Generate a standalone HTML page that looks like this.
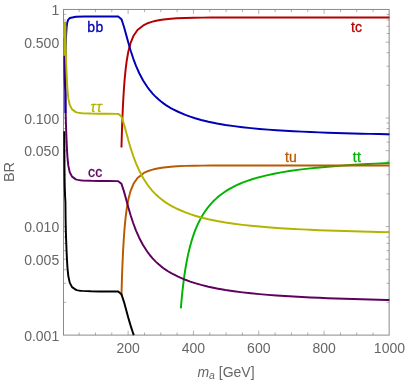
<!DOCTYPE html><html><head><meta charset="utf-8"><style>html,body{margin:0;padding:0;background:#fff}body{width:406px;height:382px;overflow:hidden;position:relative;font-family:"Liberation Sans",sans-serif}</style></head><body><svg width="406" height="382" viewBox="0 0 406 382" style="position:absolute;left:0;top:0;will-change:transform">
<rect width="406" height="382" fill="#fff"/>
<rect x="63.50" y="9.45" width="325.65" height="325.65" fill="none" stroke="#8a8a8a" stroke-width="1"/>
<path d="M79.13 335.10v-2.70M79.13 9.45v2.70M95.46 335.10v-2.70M95.46 9.45v2.70M111.79 335.10v-2.70M111.79 9.45v2.70M128.13 335.10v-4.40M128.13 9.45v4.40M144.46 335.10v-2.70M144.46 9.45v2.70M160.79 335.10v-2.70M160.79 9.45v2.70M177.12 335.10v-2.70M177.12 9.45v2.70M193.45 335.10v-4.40M193.45 9.45v4.40M209.78 335.10v-2.70M209.78 9.45v2.70M226.12 335.10v-2.70M226.12 9.45v2.70M242.45 335.10v-2.70M242.45 9.45v2.70M258.78 335.10v-4.40M258.78 9.45v4.40M275.11 335.10v-2.70M275.11 9.45v2.70M291.44 335.10v-2.70M291.44 9.45v2.70M307.77 335.10v-2.70M307.77 9.45v2.70M324.10 335.10v-4.40M324.10 9.45v4.40M340.44 335.10v-2.70M340.44 9.45v2.70M356.77 335.10v-2.70M356.77 9.45v2.70M373.10 335.10v-2.70M373.10 9.45v2.70M63.50 118.00h3.50M389.15 118.00h-3.50M63.50 85.32h2.60M389.15 85.32h-2.60M63.50 66.21h2.60M389.15 66.21h-2.60M63.50 52.65h2.60M389.15 52.65h-2.60M63.50 42.13h3.50M389.15 42.13h-3.50M63.50 33.53h2.60M389.15 33.53h-2.60M63.50 26.26h2.60M389.15 26.26h-2.60M63.50 19.97h2.60M389.15 19.97h-2.60M63.50 14.42h2.60M389.15 14.42h-2.60M63.50 226.55h3.50M389.15 226.55h-3.50M63.50 193.87h2.60M389.15 193.87h-2.60M63.50 174.76h2.60M389.15 174.76h-2.60M63.50 161.20h2.60M389.15 161.20h-2.60M63.50 150.68h3.50M389.15 150.68h-3.50M63.50 142.08h2.60M389.15 142.08h-2.60M63.50 134.81h2.60M389.15 134.81h-2.60M63.50 128.52h2.60M389.15 128.52h-2.60M63.50 122.97h2.60M389.15 122.97h-2.60M63.50 302.42h2.60M389.15 302.42h-2.60M63.50 283.31h2.60M389.15 283.31h-2.60M63.50 269.75h2.60M389.15 269.75h-2.60M63.50 259.23h3.50M389.15 259.23h-3.50M63.50 250.63h2.60M389.15 250.63h-2.60M63.50 243.36h2.60M389.15 243.36h-2.60M63.50 237.07h2.60M389.15 237.07h-2.60M63.50 231.52h2.60M389.15 231.52h-2.60" stroke="#7c7c7c" stroke-width="0.6" fill="none"/>
<path d="M180.85 308.45 L181.57 300.04 L182.36 291.95 L183.31 283.59 L184.42 275.24 L185.38 268.95 L186.59 261.99 L187.81 255.91 L189.02 250.53 L190.23 245.73 L191.45 241.41 L192.66 237.49 L193.88 233.92 L195.09 230.65 L196.31 227.64 L197.52 224.85 L198.74 222.27 L199.95 219.87 L201.17 217.63 L202.38 215.53 L203.60 213.56 L204.81 211.71 L206.02 209.97 L207.24 208.32 L208.45 206.77 L209.67 205.30 L210.88 203.90 L212.10 202.57 L213.31 201.31 L214.53 200.11 L216.96 197.87 L219.39 195.83 L221.81 193.95 L224.24 192.23 L226.67 190.64 L229.10 189.17 L231.53 187.80 L235.18 185.92 L238.82 184.23 L242.46 182.70 L247.32 180.87 L252.18 179.24 L258.25 177.44 L265.54 175.58 L274.04 173.73 L282.54 172.16 L291.05 170.81 L299.55 169.65 L308.05 168.63 L316.55 167.73 L325.06 166.93 L333.56 166.23 L342.06 165.60 L350.56 165.03 L359.06 164.52 L367.57 164.05 L376.07 163.63 L384.57 163.25 L389.43 163.05" fill="none" stroke="#00b400" stroke-width="1.95" stroke-linejoin="round"/>
<path d="M121.46 295.56 L121.77 284.53 L122.06 275.33 L122.36 267.27 L122.75 257.94 L123.14 249.92 L123.64 241.33 L124.23 232.70 L124.91 224.41 L125.80 215.83 L126.88 207.69 L128.36 199.42 L130.42 191.37 L133.37 184.02 L137.50 177.97 L143.89 172.98 L147.72 171.21 L150.15 170.35 L152.58 169.63 L155.01 169.03 L158.66 168.30 L163.51 167.54 L170.80 166.71 L176.87 166.22 L184.89 165.89 L193.88 165.71 L202.38 165.62 L210.88 165.56 L219.39 165.53 L227.89 165.51 L236.39 165.49 L244.89 165.48 L253.39 165.48 L261.90 165.47 L270.40 165.47 L278.90 165.47 L287.40 165.47 L295.91 165.47 L304.41 165.47 L312.91 165.47 L321.41 165.47 L329.91 165.47 L338.42 165.47 L346.92 165.47 L355.42 165.47 L363.92 165.47 L372.43 165.47 L380.93 165.47 L389.43 165.47" fill="none" stroke="#b85a00" stroke-width="1.95" stroke-linejoin="round"/>
<path d="M121.46 147.58 L121.77 136.56 L122.06 127.36 L122.36 119.30 L122.75 109.97 L123.14 101.95 L123.64 93.36 L124.23 84.73 L124.91 76.43 L125.80 67.86 L126.88 59.71 L128.36 51.44 L130.42 43.40 L133.37 36.05 L137.50 30.00 L143.89 25.01 L147.72 23.23 L150.15 22.37 L152.58 21.66 L155.01 21.06 L158.66 20.32 L163.51 19.56 L170.80 18.74 L176.87 18.24 L184.89 17.92 L193.88 17.74 L202.38 17.64 L210.88 17.59 L219.39 17.55 L227.89 17.53 L236.39 17.52 L244.89 17.51 L253.39 17.50 L261.90 17.50 L270.40 17.50 L278.90 17.50 L287.40 17.50 L295.91 17.50 L304.41 17.50 L312.91 17.50 L321.41 17.50 L329.91 17.50 L338.42 17.50 L346.92 17.50 L355.42 17.50 L363.92 17.50 L372.43 17.50 L380.93 17.50 L389.43 17.50" fill="none" stroke="#b40000" stroke-width="1.95" stroke-linejoin="round"/>
<path d="M64.30 131.20 L64.32 139.43 L64.35 147.82 L64.39 155.85 L64.44 164.06 L64.51 172.44 L64.62 180.50 L64.79 188.53 L65.09 196.56 L65.42 202.20 L65.50 210.47 L65.59 218.62 L65.73 226.62 L65.96 234.67 L66.25 242.72 L66.55 250.74 L66.97 259.77 L67.46 267.79 L68.32 276.09 L69.73 282.63 L72.06 287.12 L75.87 289.81 L76.95 290.12 L78.04 290.35 L80.22 290.67 L82.40 290.89 L91.11 291.25 L99.82 291.41 L108.53 291.52 L117.24 291.58 L118.20 291.58 L121.47 294.30 L124.03 302.07 L126.19 310.00 L128.36 317.92 L130.62 325.63 L133.17 333.44 L133.76 335.10" fill="none" stroke="#000000" stroke-width="1.95" stroke-linejoin="round"/>
<path d="M64.30 37.56 L64.33 46.60 L64.37 54.87 L64.42 62.93 L64.49 71.14 L64.65 79.29 L65.03 87.29 L65.41 91.10 L65.49 99.44 L65.58 107.68 L65.73 115.90 L65.96 124.05 L66.24 132.10 L66.54 140.14 L66.97 149.32 L67.46 157.34 L68.32 165.64 L69.73 172.18 L72.06 176.67 L75.87 179.36 L76.95 179.67 L78.04 179.90 L80.22 180.22 L82.40 180.44 L91.11 180.80 L99.82 180.96 L108.53 181.08 L117.24 181.13 L118.20 181.13 L121.47 183.85 L124.03 191.62 L126.19 199.56 L128.36 207.47 L130.62 215.19 L133.17 223.01 L136.02 230.61 L139.27 237.96 L143.00 245.05 L147.33 251.78 L148.94 253.95 L150.15 255.50 L151.37 256.96 L152.58 258.35 L153.80 259.67 L155.01 260.92 L156.23 262.12 L158.66 264.34 L161.08 266.36 L163.51 268.21 L165.94 269.91 L168.37 271.47 L170.80 272.91 L173.23 274.24 L178.09 276.64 L185.38 279.78 L190.23 281.58 L195.09 283.17 L201.17 284.92 L208.45 286.73 L216.96 288.51 L225.46 290.00 L233.96 291.27 L242.46 292.36 L250.97 293.30 L259.47 294.13 L267.97 294.85 L276.47 295.49 L284.97 296.06 L293.48 296.57 L301.98 297.03 L310.48 297.45 L318.98 297.83 L327.49 298.17 L335.99 298.49 L344.49 298.78 L352.99 299.05 L361.49 299.30 L370.00 299.53 L378.50 299.75 L387.00 299.95 L389.43 300.01" fill="none" stroke="#5e005e" stroke-width="1.95" stroke-linejoin="round"/>
<path d="M65.43 113.04 L65.44 104.93 L65.46 93.82 L65.48 84.85 L65.50 76.31 L65.53 68.17 L65.57 59.49 L65.65 51.35 L65.80 43.32 L66.11 35.24 L66.63 27.23 L67.27 22.45 L68.25 19.58 L69.91 17.94 L75.87 16.73 L84.58 16.53 L93.29 16.49 L102.00 16.46 L110.71 16.45 L118.20 16.44 L121.47 19.17 L124.03 26.94 L126.19 34.87 L128.36 42.79 L130.62 50.50 L133.17 58.31 L136.02 65.89 L139.27 73.24 L143.10 80.47 L147.53 87.29 L148.94 89.19 L150.15 90.73 L151.37 92.18 L152.58 93.57 L153.80 94.88 L155.01 96.13 L156.23 97.32 L158.66 99.53 L161.08 101.55 L163.51 103.39 L165.94 105.08 L168.37 106.63 L170.80 108.05 L173.23 109.37 L178.09 111.75 L185.38 114.87 L190.23 116.65 L195.09 118.22 L201.17 119.95 L208.45 121.73 L216.96 123.47 L225.46 124.93 L233.96 126.16 L242.46 127.22 L250.97 128.13 L259.47 128.92 L267.97 129.61 L276.47 130.21 L284.97 130.75 L293.48 131.23 L301.98 131.65 L310.48 132.03 L318.98 132.38 L327.49 132.69 L335.99 132.97 L344.49 133.23 L352.99 133.46 L361.49 133.68 L370.00 133.87 L378.50 134.06 L387.00 134.22 L389.43 134.27" fill="none" stroke="#0000b4" stroke-width="1.95" stroke-linejoin="round"/>
<path d="M64.30 55.87 L64.32 47.53 L64.35 39.28 L64.41 31.17 L64.65 23.11 L65.09 22.34 L65.41 25.08 L65.49 33.19 L65.59 41.60 L65.74 49.71 L65.99 57.84 L66.28 65.87 L66.59 73.91 L66.97 82.07 L67.46 90.09 L68.32 98.39 L69.73 104.92 L72.06 109.42 L75.87 112.11 L76.95 112.41 L78.04 112.65 L80.22 112.97 L82.40 113.19 L91.11 113.55 L99.82 113.71 L108.53 113.82 L117.24 113.87 L118.20 113.87 L121.47 116.60 L124.03 124.37 L126.19 132.30 L128.36 140.22 L130.62 147.93 L133.17 155.75 L136.02 163.33 L139.27 170.69 L143.10 177.93 L147.53 184.76 L148.94 186.66 L150.15 188.20 L151.37 189.66 L152.58 191.04 L153.80 192.36 L155.01 193.61 L156.23 194.80 L158.66 197.02 L161.08 199.04 L163.51 200.88 L165.94 202.58 L168.37 204.13 L170.80 205.56 L173.23 206.89 L178.09 209.27 L185.38 212.40 L190.23 214.19 L195.09 215.77 L201.17 217.51 L208.45 219.30 L216.96 221.06 L225.46 222.53 L233.96 223.79 L242.46 224.86 L250.97 225.78 L259.47 226.59 L267.97 227.29 L276.47 227.91 L284.97 228.47 L293.48 228.96 L301.98 229.40 L310.48 229.80 L318.98 230.16 L327.49 230.48 L335.99 230.78 L344.49 231.05 L352.99 231.30 L361.49 231.53 L370.00 231.75 L378.50 231.94 L387.00 232.13 L389.43 232.18" fill="none" stroke="#b4b400" stroke-width="1.95" stroke-linejoin="round"/>
<g font-family="Liberation Sans, sans-serif" font-size="14" fill="#666666">
<text x="59.2" y="15.05" text-anchor="end">1</text>
<text x="59.2" y="47.73" text-anchor="end">0.500</text>
<text x="59.2" y="123.60" text-anchor="end">0.100</text>
<text x="59.2" y="156.28" text-anchor="end">0.050</text>
<text x="59.2" y="232.15" text-anchor="end">0.010</text>
<text x="59.2" y="264.83" text-anchor="end">0.005</text>
<text x="59.2" y="340.70" text-anchor="end">0.001</text>
<text x="128.13" y="353" text-anchor="middle">200</text>
<text x="193.45" y="353" text-anchor="middle">400</text>
<text x="258.78" y="353" text-anchor="middle">600</text>
<text x="324.10" y="353" text-anchor="middle">800</text>
<text x="389.43" y="353" text-anchor="middle">1000</text>
<text x="226" y="377.4" text-anchor="middle"><tspan font-style="italic">m</tspan><tspan font-style="italic" font-size="10.5" dy="2">a</tspan><tspan dy="-2"> [GeV]</tspan></text>
<text transform="translate(14.3 172) rotate(-90)" text-anchor="middle" font-size="14.5">BR</text>
</g>
<g font-family="Liberation Sans, sans-serif" font-size="14">
<text x="87.3" y="31.9" fill="#0000b4" stroke="#0000b4" stroke-width="0.3" letter-spacing="0.3">bb</text>
<text x="90.4" y="111.8" fill="#b4b400" stroke="#b4b400" stroke-width="0.3" font-style="italic" letter-spacing="0.9">ττ</text>
<text x="88" y="177.2" fill="#5e005e" stroke="#5e005e" stroke-width="0.3" letter-spacing="0.2">cc</text>
<text x="351" y="32" fill="#b40000" stroke="#b40000" stroke-width="0.3" letter-spacing="0.2">tc</text>
<text x="285" y="161.8" fill="#b85a00" stroke="#b85a00" stroke-width="0.3" >tu</text>
<text x="352.7" y="161.8" fill="#00b400" stroke="#00b400" stroke-width="0.3" letter-spacing="0.4">tt</text>
</g>
</svg></body></html>
